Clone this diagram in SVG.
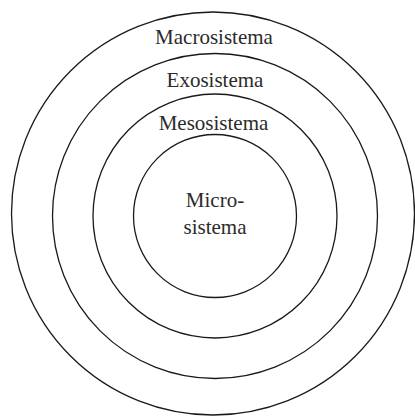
<svg xmlns="http://www.w3.org/2000/svg" width="415" height="417" viewBox="0 0 415 417">
<style>
.ring{fill:none;stroke:#1a1a1a;stroke-width:1.3}
.lbl{font-family:"Liberation Serif","Times New Roman",serif;font-size:21px;fill:#2b2b2b;text-anchor:middle}
</style>
<rect width="415" height="417" fill="#fff"/>
<g id="macrosistema"><circle class="ring" cx="213" cy="213.5" r="201.5"/><text class="lbl" x="214" y="43.5">Macrosistema</text></g>
<g id="exosistema"><circle class="ring" cx="215" cy="216" r="162.5"/><text class="lbl" x="215" y="86.5">Exosistema</text></g>
<g id="mesosistema"><circle class="ring" cx="215" cy="216" r="122"/><text class="lbl" x="213.5" y="130">Mesosistema</text></g>
<g id="microsistema"><circle class="ring" cx="215" cy="216" r="81.5"/><text class="lbl" x="215" y="206.5">Micro-</text><text class="lbl" x="215" y="233.5">sistema</text></g>
<g id="connectors"/>
</svg>
